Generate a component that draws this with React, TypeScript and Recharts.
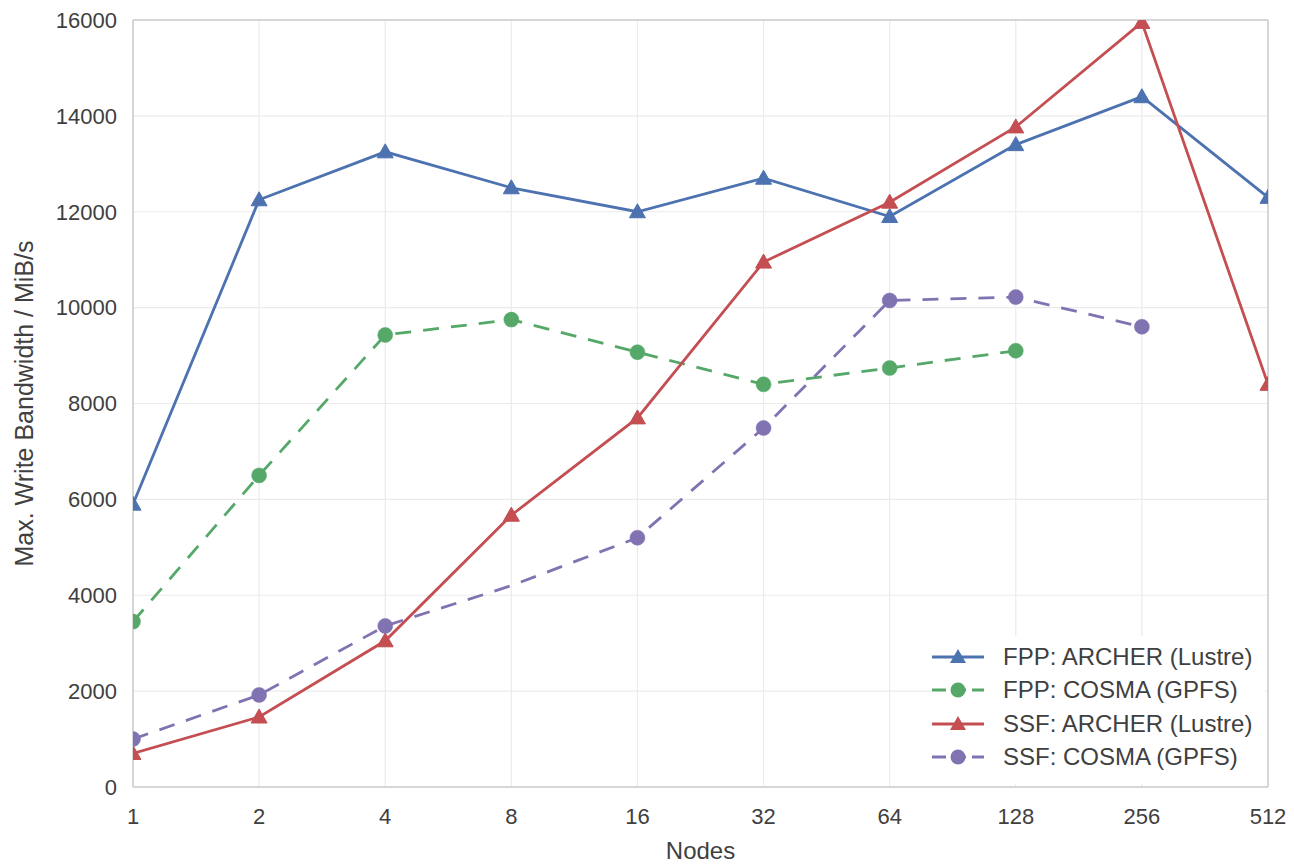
import React from 'react';
import { LineChart, Line, XAxis, YAxis, CartesianGrid, ReferenceLine, Label } from 'recharts';

const nodes = ['1', '2', '4', '8', '16', '32', '64', '128', '256', '512'];
const fppArcher = [5900, 12250, 13250, 12500, 12000, 12700, 11900, 13400, 14400, 12300];
const fppCosma = [3450, 6500, 9430, 9750, 9070, 8400, 8740, 9100, null, null];
const ssfArcher = [700, 1460, 3050, 5670, 7700, 10950, 12200, 13770, 15950, 8400];
const ssfCosma = [1000, 1920, 3360, 4200, 5200, 7490, 10150, 10220, 9600, null];
const ssfCosmaNoMarker = ['8'];
const yTicks = [0, 2000, 4000, 6000, 8000, 10000, 12000, 14000, 16000];

const seriesNames = ['FPP: ARCHER (Lustre)', 'FPP: COSMA (GPFS)', 'SSF: ARCHER (Lustre)', 'SSF: COSMA (GPFS)'];
const colors = ['#4C72B0', '#55A868', '#C44E52', '#8172B2'];

const data = nodes.map((n, i) => ({
  nodes: n,
  fppArcher: fppArcher[i],
  fppCosma: fppCosma[i],
  ssfArcher: ssfArcher[i],
  ssfCosma: ssfCosma[i],
}));

const FONT = '"Liberation Sans", Arial, sans-serif';
const DASH = '16 12';
const TEXT = '#404040';

const triangle = (color: string) => (props: any) => {
  const { cx, cy, payload, value } = props;
  if (cx == null || cy == null || value == null) return <g key={`t-${payload?.nodes}`} />;
  const s = 8;
  return (
    <path
      key={`t-${payload.nodes}-${color}`}
      d={`M${cx},${cy - s} L${cx + s},${cy + s * 0.75} L${cx - s},${cy + s * 0.75} Z`}
      fill={color}
      stroke={color}
      strokeWidth={1}
    />
  );
};

const circle = (color: string, skip: string[] = []) => (props: any) => {
  const { cx, cy, payload, value } = props;
  if (cx == null || cy == null || value == null || skip.includes(payload.nodes))
    return <g key={`c-${payload?.nodes}-${color}`} />;
  return <circle key={`c-${payload.nodes}-${color}`} cx={cx} cy={cy} r={7.5} fill={color} stroke={color} strokeWidth={0.5} />;
};

const LegendIcon = ({ color, tri, dashed }: { color: string; tri: boolean; dashed: boolean }) => (
  <svg width={56} height={20} style={{ display: 'block' }}>
    <line x1={0} y1={10} x2={52} y2={10} stroke={color} strokeWidth={2.8} strokeDasharray={dashed ? '14 6' : undefined} />
    {tri ? (
      <path d="M26,2 L34,16 L18,16 Z" fill={color} />
    ) : (
      <circle cx={26} cy={10} r={7.5} fill={color} />
    )}
  </svg>
);

export default function App() {
  return (
    <div style={{ position: 'absolute', left: 0, top: 0, width: 1294, height: 865, background: '#fff', fontFamily: FONT }}>
      <LineChart width={1294} height={865} data={data} margin={{ top: 20, right: 26, bottom: 0, left: 0 }}>
        <CartesianGrid stroke="#ebebeb" strokeWidth={1.2} />
        <XAxis
          dataKey="nodes"
          scale="point"
          padding={{ left: 0, right: 0 }}
          interval={0}
          height={78}
          tickSize={0}
          tickMargin={21}
          allowDataOverflow
          axisLine={{ stroke: '#cccccc', strokeWidth: 1.5 }}
          tick={{ fill: TEXT, fontSize: 22, fontFamily: FONT }}
        >
          <Label value="Nodes" position="insideBottom" offset={6} fill={TEXT} fontSize={24} fontFamily={FONT} />
        </XAxis>
        <YAxis
          type="number"
          domain={[0, 16000]}
          ticks={yTicks}
          allowDataOverflow
          width={133}
          tickSize={0}
          tickMargin={16}
          axisLine={{ stroke: '#cccccc', strokeWidth: 1.5 }}
          tick={{ fill: TEXT, fontSize: 22, fontFamily: FONT }}
        >
          <Label
            content={(p: any) => {
              const vb = p.viewBox || {};
              const cx = 24;
              const cy = (vb.y ?? 20) + (vb.height ?? 767) / 2;
              return (
                <text
                  x={cx}
                  y={cy}
                  transform={`rotate(-90, ${cx}, ${cy})`}
                  textAnchor="middle"
                  dominantBaseline="central"
                  fill={TEXT}
                  fontSize={25}
                  fontFamily={FONT}
                >
                  Max. Write Bandwidth / MiB/s
                </text>
              );
            }}
          />
        </YAxis>
        <ReferenceLine y={16000} stroke="#cccccc" strokeWidth={1.5} />
        <ReferenceLine x="512" stroke="#cccccc" strokeWidth={1.5} />
        <Line dataKey="fppArcher" name={seriesNames[0]} stroke={colors[0]} strokeWidth={2.8} dot={triangle(colors[0])} activeDot={false} isAnimationActive={false} />
        <Line dataKey="fppCosma" name={seriesNames[1]} stroke={colors[1]} strokeWidth={2.8} strokeDasharray={DASH} dot={circle(colors[1])} activeDot={false} isAnimationActive={false} />
        <Line dataKey="ssfArcher" name={seriesNames[2]} stroke={colors[2]} strokeWidth={2.8} dot={triangle(colors[2])} activeDot={false} isAnimationActive={false} />
        <Line dataKey="ssfCosma" name={seriesNames[3]} stroke={colors[3]} strokeWidth={2.8} strokeDasharray={DASH} dot={circle(colors[3], ssfCosmaNoMarker)} activeDot={false} isAnimationActive={false} />
      </LineChart>
      <div
        style={{
          position: 'absolute',
          left: 932,
          top: 636,
          width: 333,
          height: 148,
          background: '#fff',
          paddingTop: 4,
          boxSizing: 'border-box',
        }}
      >
        {seriesNames.map((name, i) => (
          <div key={name} style={{ display: 'flex', alignItems: 'center', height: 33.5 }}>
            <LegendIcon color={colors[i]} tri={i % 2 === 0} dashed={i % 2 === 1} />
            <span style={{ marginLeft: 15, fontSize: 24, color: TEXT, fontFamily: FONT, whiteSpace: 'nowrap' }}>{name}</span>
          </div>
        ))}
      </div>
    </div>
  );
}
